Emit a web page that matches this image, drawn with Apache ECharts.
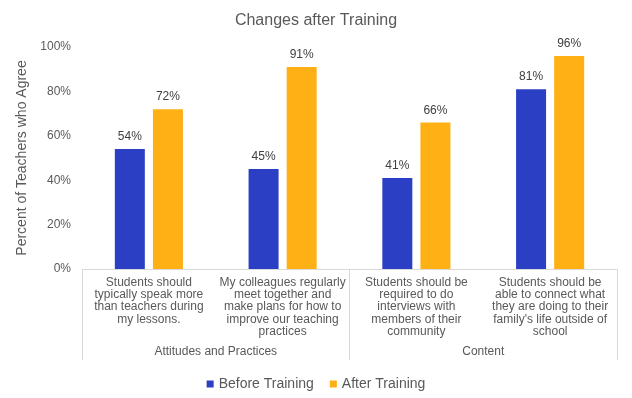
<!DOCTYPE html>
<html>
<head>
<meta charset="utf-8">
<script src="https://cdn.jsdelivr.net/npm/echarts@6/dist/echarts.min.js"></script>
<style>
  html, body { margin: 0; padding: 0; background: #fff; }
  #chart { width: 632px; height: 398px; }
</style>
</head>
<body>
<div id="chart"></div>
<script>
// 问题（类目）
const questions = [
    "Students should\ntypically speak more\nthan teachers during\nmy lessons.",
    "My colleagues regularly\nmeet together and\nmake plans for how to\nimprove our teaching\npractices",
    "Students should be\nrequired to do\ninterviews with\nmembers of their\ncommunity",
    "Students should be\nable to connect what\nthey are doing to their\nfamily's life outside of\nschool"
]
// 分组
const groups = ["Attitudes and Practices", "Content"]
// 数据
const beforeTraining = [54, 45, 41, 81]
const afterTraining = [72, 91, 66, 96]

const textColor = '#595959'
const lineColor = '#d9d9d9'
const font = 'Liberation Sans, Arial, sans-serif'

const chart = echarts.init(document.getElementById('chart'))

const labelOpt = {
    show: true,
    position: 'top',
    distance: 6,
    color: '#404040',
    fontSize: 12,
    fontFamily: font,
    formatter: p => p.value + '%'
}

const opt = {
    animation: false,
    title: {
        text: 'Changes after Training',
        left: 'center',
        top: 8,
        textStyle: { color: textColor, fontSize: 16, fontWeight: 'normal', fontFamily: font }
    },
    legend: {
        bottom: 2,
        left: 'center',
        itemWidth: 7,
        itemHeight: 7,
        itemGap: 16,
        icon: 'rect',
        textStyle: { color: textColor, fontSize: 14, fontFamily: font },
        data: ['Before Training', 'After Training']
    },
    grid: { left: 82, right: 15, top: 47, bottom: 129 },
    xAxis: [
        {
            type: 'category',
            data: questions,
            axisLine: { lineStyle: { color: lineColor } },
            axisTick: { show: false },
            axisLabel: {
                interval: 0,
                margin: 7,
                color: textColor,
                fontSize: 12,
                lineHeight: 12.4,
                fontFamily: font,
                align: 'center'
            }
        },
        {
            type: 'category',
            position: 'bottom',
            data: groups,
            axisLine: { show: false },
            axisTick: { show: true, length: 91, lineStyle: { color: lineColor } },
            axisLabel: { margin: 77, color: textColor, fontSize: 12, fontFamily: font }
        }
    ],
    yAxis: {
        type: 'value',
        min: 0,
        max: 100,
        interval: 20,
        name: 'Percent of Teachers who Agree',
        nameLocation: 'middle',
        nameGap: 48,
        nameTextStyle: { color: textColor, fontSize: 14, fontFamily: font },
        axisLine: { show: false },
        axisTick: { show: false },
        splitLine: { show: false },
        axisLabel: { color: textColor, fontSize: 12, fontFamily: font, margin: 11, formatter: '{value}%' }
    },
    series: [
        {
            name: 'Before Training',
            type: 'bar',
            data: beforeTraining,
            barWidth: 30,
            barGap: '27%',
            itemStyle: { color: '#2a3fc4' },
            label: labelOpt
        },
        {
            name: 'After Training',
            type: 'bar',
            data: afterTraining,
            barWidth: 30,
            itemStyle: { color: '#ffb014' },
            label: labelOpt
        }
    ]
}
chart.setOption(opt)
</script>
</body>
</html>
